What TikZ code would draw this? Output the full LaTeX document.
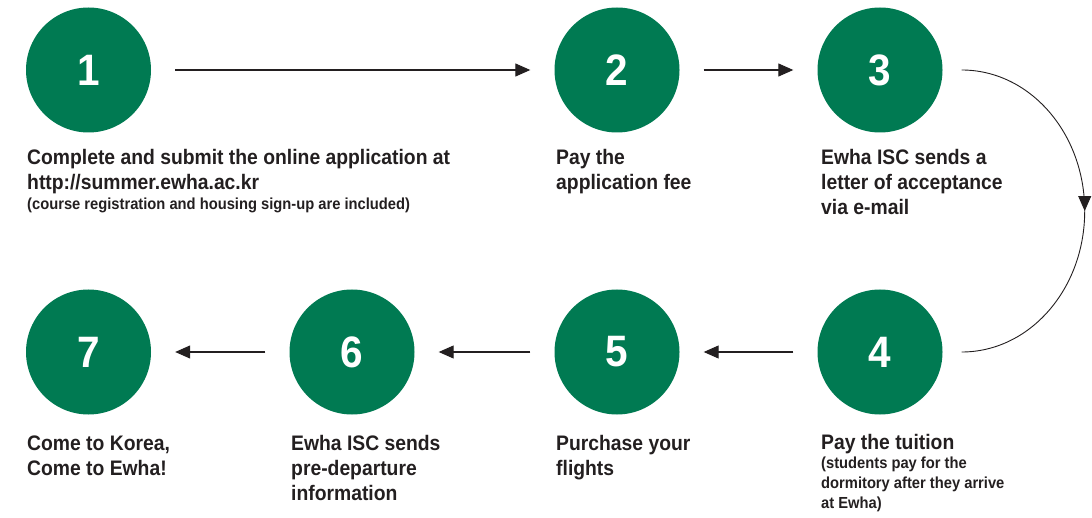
\documentclass[tikz,border=0pt]{standalone}
\usepackage{fontspec}
\setmainfont{Liberation Sans}[FakeStretch=0.92]
\usetikzlibrary{arrows.meta,decorations.markings}
\definecolor{ewgreen}{RGB}{0,122,82}
\definecolor{ink}{RGB}{35,31,32}
\begin{document}
\begin{tikzpicture}[x=1pt,y=-1pt,
  stepcirc/.style={circle, fill=ewgreen, minimum size=125pt, inner sep=0pt, text=white,
    font=\bfseries\fontsize{44}{44}\selectfont},
  captxt/.style={anchor=base west, inner sep=0pt, align=left, text=ink,
    font=\bfseries\fontsize{21}{25}\selectfont},
  subtxt/.style={anchor=base west, inner sep=0pt, align=left, text=ink,
    font=\bfseries\fontsize{16}{20}\selectfont},
  arr/.style={draw=ink, line width=1.1pt, -{Triangle[length=15pt,width=13pt]},
    shorten <=24pt, shorten >=24pt},
  arcarr/.style={draw=ink, line width=0.9pt, postaction={decorate},
    decoration={markings, mark=at position 0.5 with {\arrow{Triangle[length=15pt,width=13pt]}}}}]
\useasboundingbox (0,0) rectangle (1092,518);

\node[stepcirc] (c1) at (88.5,70) {1};
\node[stepcirc] (c2) at (617,70) {2};
\node[stepcirc] (c3) at (880,70) {3};
\node[stepcirc] (c4) at (880,352) {4};
\node[stepcirc] (c5) at (617,352) {5};
\node[stepcirc] (c6) at (352,352) {6};
\node[stepcirc] (c7) at (88.5,352) {7};

% base anchor of a multi-line node = baseline of its last line
\node[captxt] (t1) at (27,190) {Complete and submit the online application at\\http://summer.ewha.ac.kr};
\node[subtxt] (s1) at (27,210) {(course registration and housing sign-up are included)};
\node[captxt] (t2) at (556,190) {Pay the\\application fee};
\node[captxt] (t3) at (821,215) {Ewha ISC sends a\\letter of acceptance\\via e-mail};
\node[captxt] (t4) at (821,449) {Pay the tuition};
\node[subtxt] (s4) at (821,508) {(students pay for the\\dormitory after they arrive\\at Ewha)};
\node[captxt] (t5) at (556,475) {Purchase your\\flights};
\node[captxt] (t6) at (291,500) {Ewha ISC sends\\pre-departure\\information};
\node[captxt] (t7) at (27,475) {Come to Korea,\\Come to Ewha!};

\draw[arr] (c1) -- (c2);
\draw[arr] (c2) -- (c3);
\draw[arr] (c4) -- (c5);
\draw[arr] (c5) -- (c6);
\draw[arr] (c6) -- (c7);

\coordinate (a3) at ([xshift=19pt]c3.east);
\coordinate (a4) at ([xshift=19pt]c4.east);
\draw[arcarr] (a3) .. controls +(0:68pt) and +(90:78pt) .. ([xshift=123pt,yshift=-141pt]a3)
  .. controls +(-90:78pt) and +(0:68pt) .. (a4);
\end{tikzpicture}
\end{document}
